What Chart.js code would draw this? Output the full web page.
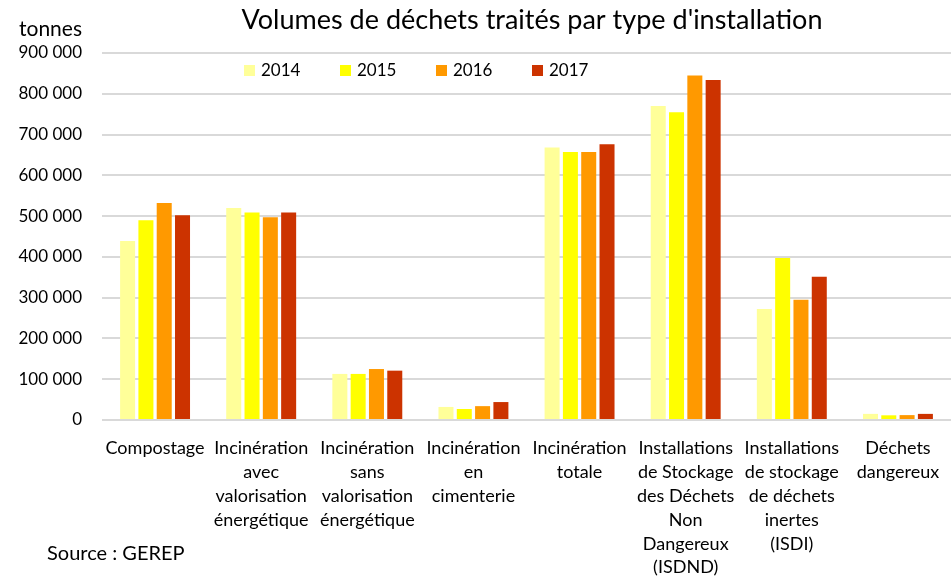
<!DOCTYPE html>
<html>
<head>
<meta charset="utf-8">
<script src="https://cdn.jsdelivr.net/npm/chart.js@4/dist/chart.umd.min.js"></script>
<style>
  html, body { margin: 0; padding: 0; background: #fff; }
  #wrap { position: relative; width: 951px; height: 584px; }
</style>
</head>
<body>
<div id="wrap"><canvas id="myChart"></canvas></div>
<script>
const categories = [
    "Compostage",
    ["Incinération", "avec", "valorisation", "énergétique"],
    ["Incinération", "sans", "valorisation", "énergétique"],
    ["Incinération", "en", "cimenterie"],
    ["Incinération", "totale"],
    ["Installations", "de Stockage", "des Déchets", "Non", "Dangereux", "(ISDND)"],
    ["Installations", "de stockage", "de déchets", "inertes", "(ISDI)"],
    ["Déchets", "dangereux"],
];
const years = ["2014", "2015", "2016", "2017"];
const colors = ["#FFFF99", "#FFFF00", "#FF9900", "#CC3300"];

const values2014 = [439000, 520000, 113000, 32000, 668000, 770000, 272000, 15000];
const values2015 = [490000, 509000, 113000, 27000, 657000, 755000, 397000, 11500];
const values2016 = [532000, 497000, 125000, 34000, 657000, 845000, 295000, 12000];
const values2017 = [502000, 509000, 121000, 44000, 676000, 834000, 351000, 15000];
const series = [values2014, values2015, values2016, values2017];

const FONT = "Lato, 'Open Sans', sans-serif";

function formatTonnes(v) {
    return String(v).replace(/\B(?=(\d{3})+(?!\d))/g, " ");
}

// title, unit, legend and source drawn on top of the chart
const decorations = {
    id: "decorations",
    afterDraw(chart) {
        const ctx = chart.ctx;
        ctx.save();
        ctx.fillStyle = "#000";
        ctx.textBaseline = "middle";

        ctx.font = "27px " + FONT;
        ctx.textAlign = "center";
        ctx.fillText("Volumes de déchets traités par type d'installation", 532, 20);

        ctx.font = "21px " + FONT;
        ctx.textAlign = "left";
        ctx.fillText("tonnes", 19, 29);

        ctx.font = "20px " + FONT;
        ctx.fillText("Source : GEREP", 47, 554);

        ctx.font = "17px " + FONT;
        let x = 244;
        chart.data.datasets.forEach((ds) => {
            ctx.fillStyle = ds.backgroundColor;
            ctx.fillRect(x, 65, 11, 11);
            ctx.fillStyle = "#000";
            ctx.fillText(ds.label, x + 17, 71);
            x += 96;
        });
        ctx.restore();
    },
};

const myChartRef = document.getElementById("myChart").getContext("2d");

new Chart(myChartRef, {
    type: "bar",
    data: {
        labels: categories,
        datasets: years.map((year, i) => ({
            label: year,
            data: series[i],
            backgroundColor: colors[i],
            categoryPercentage: 0.69,
            barPercentage: 0.82,
        })),
    },
    options: {
        responsive: true,
        maintainAspectRatio: false,
        animation: false,
        layout: { padding: { top: 53, right: 0, left: 0, bottom: 0 } },
        plugins: {
            legend: { display: false },
            title: { display: false },
            tooltip: { enabled: false },
        },
        scales: {
            x: {
                grid: { display: false },
                border: { display: false },
                ticks: {
                    color: "#000",
                    font: { family: FONT, size: 18, lineHeight: 1.33 },
                    padding: 8,
                    maxRotation: 0,
                    autoSkip: false,
                },
                afterFit(scale) {
                    scale.height = 164;
                },
            },
            y: {
                min: 0,
                max: 900000,
                grid: { color: "#d9d9d9", lineWidth: 2, drawTicks: false },
                border: { display: false },
                ticks: {
                    stepSize: 100000,
                    color: "#000",
                    font: { family: FONT, size: 17 },
                    padding: 20,
                    callback: (v) => formatTonnes(v),
                },
                afterFit(scale) {
                    scale.width = 102;
                },
            },
        },
    },
    plugins: [decorations],
});
</script>
</body>
</html>
